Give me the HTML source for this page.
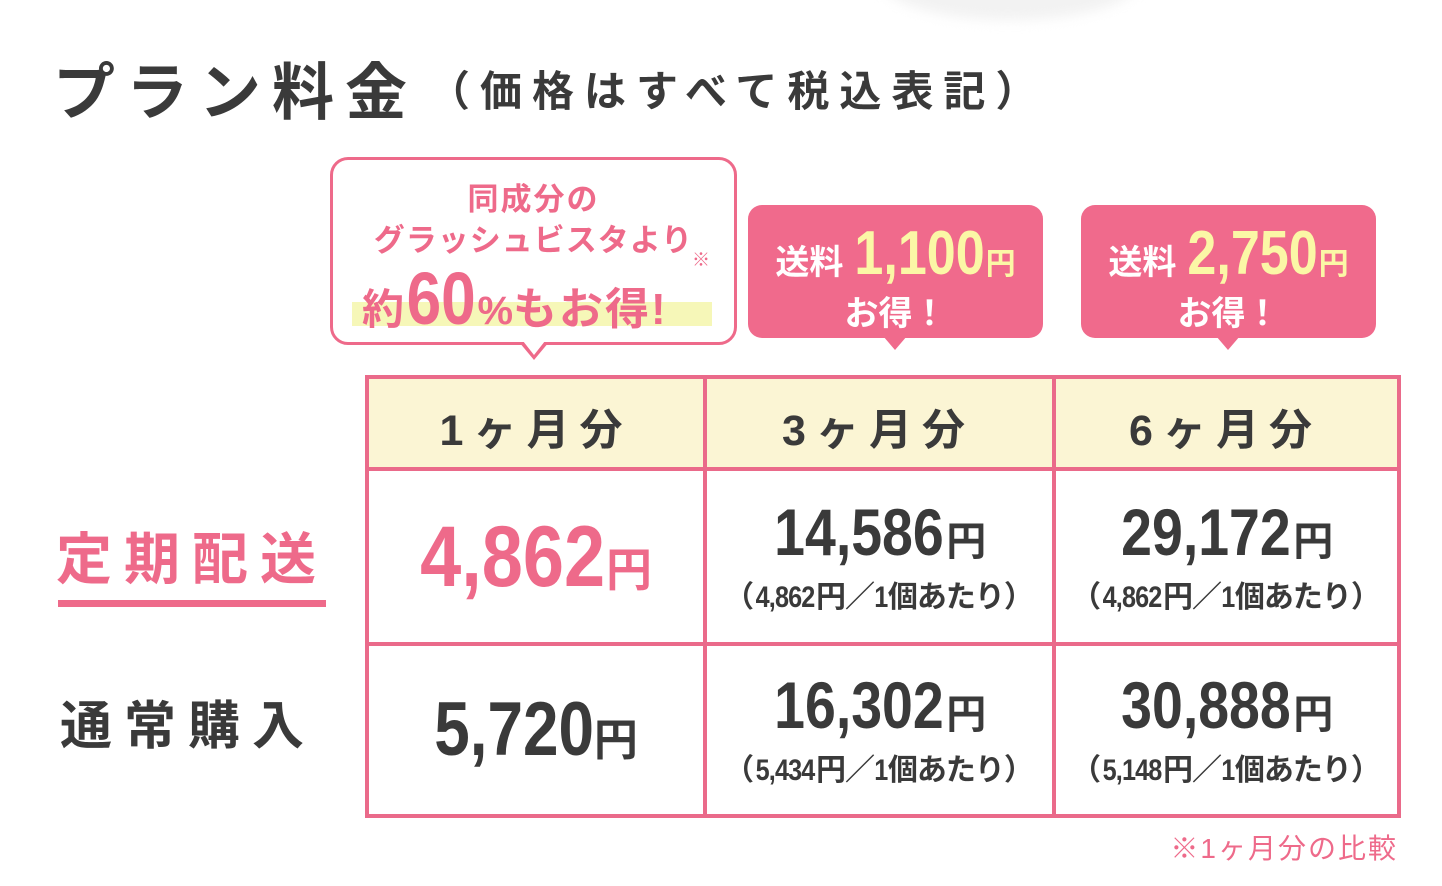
<!DOCTYPE html><html><head><meta charset="utf-8"><style>
*{margin:0;padding:0;box-sizing:border-box}
body{width:1442px;height:886px;background:#fff;position:relative;overflow:hidden;font-family:"Liberation Sans","Noto Sans CJK JP",sans-serif;color:#3a3a3a}
.a{position:absolute;white-space:nowrap}
.c{text-align:center}
.pk{color:#ee6a8a}
.n{font-weight:bold;display:inline-block;transform:scaleX(0.84);transform-origin:center bottom;margin:0 -0.2em}
.tbl{position:absolute;left:365px;top:375px;width:1036px;height:443px;border:4px solid #ea6a8a}
.vl{position:absolute;top:0;bottom:0;width:4px;background:#ea6a8a}
.hl{position:absolute;left:0;right:0;height:4px;background:#ea6a8a}
.hdr{position:absolute;left:0;right:0;top:0;height:88px;background:#fbf5d4}
.b{position:absolute;background:#f06a8c;border-radius:14px;color:#fff}
.tri{position:absolute;width:0;height:0;border-left:12px solid transparent;border-right:12px solid transparent;border-top:14px solid #f06a8c}
.sub{font-size:30px;font-weight:bold;letter-spacing:-1px}
.sub .n{margin:0 -0.12em}
</style></head><body>
<div class="a" style="left:880px;top:-60px;width:260px;height:80px;border-radius:50%;background:#f2f2f2;filter:blur(6px)"></div>
<div class="a" style="left:53px;top:42px;font-size:62px;font-weight:bold;letter-spacing:11px">プラン料金</div>
<div class="a" style="left:428px;top:58px;font-size:42px;font-weight:bold;letter-spacing:10px">（価格はすべて税込表記）</div>

<div class="a" style="left:330px;top:157px;width:407px;height:188px;border:3px solid #ee6a8a;border-radius:18px;background:#fff"></div>
<div class="a" style="left:519px;top:342px;width:0;height:0;border-left:15px solid transparent;border-right:15px solid transparent;border-top:18px solid #ee6a8a"></div>
<div class="a" style="left:523px;top:341px;width:0;height:0;border-left:11px solid transparent;border-right:11px solid transparent;border-top:14px solid #fff"></div>
<div class="a" style="left:352px;top:302px;width:360px;height:24px;background:#f6f7b8"></div>
<div class="a c pk" style="left:330px;top:174px;width:407px;font-size:31px;font-weight:bold;letter-spacing:2px">同成分の</div>
<div class="a c pk" style="left:330px;top:215px;width:407px;font-size:31px;font-weight:bold;letter-spacing:1px">グラッシュビスタより</div>
<div class="a pk" style="left:692px;top:246px;font-size:18px">※</div>
<div class="a pk" style="left:362px;top:256px;font-weight:bold"><span style="font-size:42px">約</span><span class="n" style="font-size:74px;margin:0 -0.06em">60</span><span style="font-size:40px">%</span><span style="font-size:44px;letter-spacing:2px">もお得!</span></div>

<div class="b" style="left:748px;top:205px;width:295px;height:133px"></div>
<div class="tri" style="left:883px;top:336px"></div>
<div class="a c" style="left:748px;top:218px;width:295px;color:#fff;font-weight:bold;font-size:34px">送料 <span class="n" style="color:#fbf7a6;font-size:62px;margin:0 -0.18em">1,100</span><span style="color:#fbf7a6;font-size:30px">円</span></div>
<div class="a c" style="left:748px;top:286px;width:295px;color:#fff;font-weight:bold;font-size:34px">お得！</div>

<div class="b" style="left:1081px;top:205px;width:295px;height:133px"></div>
<div class="tri" style="left:1216px;top:336px"></div>
<div class="a c" style="left:1081px;top:218px;width:295px;color:#fff;font-weight:bold;font-size:34px">送料 <span class="n" style="color:#fbf7a6;font-size:62px;margin:0 -0.18em">2,750</span><span style="color:#fbf7a6;font-size:30px">円</span></div>
<div class="a c" style="left:1081px;top:286px;width:295px;color:#fff;font-weight:bold;font-size:34px">お得！</div>

<div class="tbl">
<div class="hdr"></div>
<div class="vl" style="left:334px"></div>
<div class="vl" style="left:683px"></div>
<div class="hl" style="top:88px"></div>
<div class="hl" style="top:263px"></div>
</div>
<div class="a c" style="left:369px;top:396px;width:334px;font-size:43px;font-weight:bold;letter-spacing:10px">1ヶ月分</div>
<div class="a c" style="left:705px;top:396px;width:347px;font-size:43px;font-weight:bold;letter-spacing:10px">3ヶ月分</div>
<div class="a c" style="left:1054px;top:396px;width:343px;font-size:43px;font-weight:bold;letter-spacing:10px">6ヶ月分</div>

<div class="a pk" style="left:56px;top:515px;font-size:56px;font-weight:bold;letter-spacing:12px">定期配送</div>
<div class="a" style="left:58px;top:600px;width:268px;height:7px;background:#ee6a8a"></div>
<div class="a" style="left:60px;top:684px;font-size:52px;font-weight:bold;letter-spacing:12px">通常購入</div>

<div class="a c pk" style="left:369px;top:508px;width:334px"><span class="n" style="font-size:86px;transform:scaleX(0.86);margin:0 -0.17em">4,862</span><span style="font-size:46px;font-weight:bold">円</span></div>
<div class="a c" style="left:705px;top:494px;width:347px"><span class="n" style="font-size:66px">14,586</span><span style="font-size:40px;font-weight:bold">円</span></div>
<div class="a c sub" style="left:705px;top:572px;width:347px">（<span class="n">4,862</span>円／<span class="n" style="margin:0 -0.03em">1</span>個あたり）</div>
<div class="a c" style="left:1054px;top:494px;width:343px"><span class="n" style="font-size:66px">29,172</span><span style="font-size:40px;font-weight:bold">円</span></div>
<div class="a c sub" style="left:1054px;top:572px;width:343px">（<span class="n">4,862</span>円／<span class="n" style="margin:0 -0.03em">1</span>個あたり）</div>

<div class="a c" style="left:369px;top:686px;width:334px"><span class="n" style="font-size:76px">5,720</span><span style="font-size:44px;font-weight:bold">円</span></div>
<div class="a c" style="left:705px;top:667px;width:347px"><span class="n" style="font-size:66px">16,302</span><span style="font-size:40px;font-weight:bold">円</span></div>
<div class="a c sub" style="left:705px;top:745px;width:347px">（<span class="n">5,434</span>円／<span class="n" style="margin:0 -0.03em">1</span>個あたり）</div>
<div class="a c" style="left:1054px;top:667px;width:343px"><span class="n" style="font-size:66px">30,888</span><span style="font-size:40px;font-weight:bold">円</span></div>
<div class="a c sub" style="left:1054px;top:745px;width:343px">（<span class="n">5,148</span>円／<span class="n" style="margin:0 -0.03em">1</span>個あたり）</div>

<div class="a pk" style="right:44px;top:827px;font-size:28px;letter-spacing:2px">※1ヶ月分の比較</div>
</body></html>
